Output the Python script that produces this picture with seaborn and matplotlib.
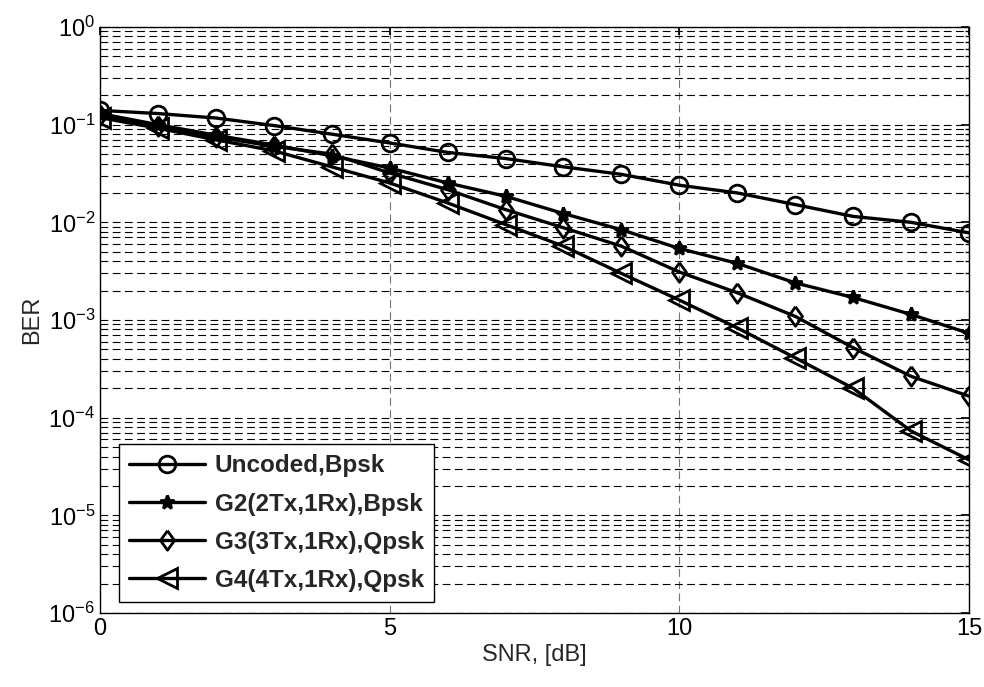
import numpy as np
import pandas as pd
import matplotlib
matplotlib.use("Agg")
import matplotlib.pyplot as plt
import seaborn as sns
from matplotlib.ticker import FixedLocator, NullFormatter, LogFormatterSciNotation

snr = [0, 1, 2, 3, 4, 5, 6, 7, 8, 9, 10, 11, 12, 13, 14, 15]
uncoded = [0.14, 0.13, 0.117, 0.098, 0.080, 0.065, 0.052, 0.045, 0.037, 0.031,
           0.024, 0.020, 0.0152, 0.0115, 0.0100, 0.0078]
g2 = [0.13, 0.100, 0.078, 0.062, 0.048, 0.036, 0.0253, 0.0185, 0.0123, 0.0084,
      0.0054, 0.0038, 0.0024, 0.0017, 0.00114, 0.00073]
g3 = [0.125, 0.097, 0.075, 0.060, 0.050, 0.032, 0.0216, 0.0135, 0.0088, 0.0057,
      0.0031, 0.0019, 0.00109, 0.00052, 0.000265, 0.000166]
g4 = [0.118, 0.092, 0.070, 0.054, 0.037, 0.0253, 0.0158, 0.0095, 0.0057, 0.0030,
      0.0016, 0.00083, 0.00041, 0.00020, 0.000073, 0.000037]
labels = ["Uncoded,Bpsk", "G2(2Tx,1Rx),Bpsk", "G3(3Tx,1Rx),Qpsk", "G4(4Tx,1Rx),Qpsk"]
xticks = [0, 5, 10, 15]
ydecades = [-6, -5, -4, -3, -2, -1, 0]

sns.set_theme(style="white")
plt.rcParams["font.family"] = ["Liberation Sans", "DejaVu Sans"]

fig = plt.figure(figsize=(9.84, 6.87), dpi=100)
ax = fig.add_axes([100/984, 74/687, 869/984, 586/687])

diamond = [(0, 1), (0.72, 0), (0, -1), (-0.72, 0), (0, 1)]
series = [uncoded, g2, g3, g4]
styles = [
    dict(marker="o", markersize=12, markerfacecolor="none"),
    dict(marker="*", markersize=10, markerfacecolor="black"),
    dict(marker=diamond, markersize=14, markerfacecolor="none"),
    dict(marker="<", markersize=14, markerfacecolor="none"),
]
for vals, lab, st in zip(series, labels, styles):
    df = pd.DataFrame({"snr": snr, "ber": vals})
    sns.lineplot(data=df, x="snr", y="ber", ax=ax, color="black", linewidth=2.4,
                 markeredgecolor="black", markeredgewidth=2.0, label=lab, **st)

ax.set_yscale("log")
ax.set_xlim(0, 15)
ax.set_ylim(1e-6, 1)
ax.xaxis.set_major_locator(FixedLocator(xticks))
ax.yaxis.set_major_locator(FixedLocator([10.0 ** k for k in ydecades]))
ax.yaxis.set_major_formatter(LogFormatterSciNotation())
minor = [m * 10.0 ** k for k in ydecades[:-1] for m in range(2, 10)]
ax.yaxis.set_minor_locator(FixedLocator(minor))
ax.yaxis.set_minor_formatter(NullFormatter())

ax.grid(False)
ax.yaxis.grid(True, which="both", color="black", linestyle=(0, (7, 4)), linewidth=0.8)
ax.xaxis.grid(True, which="major", color="0.45", linestyle=(0, (7, 4)), linewidth=0.8)

ax.tick_params(axis="both", which="both", direction="in", top=True, right=True,
               labelsize=17, colors="black")
ax.tick_params(which="major", length=6)
ax.tick_params(which="minor", length=3)
for s in ax.spines.values():
    s.set_color("black")
    s.set_linewidth(1.0)

ax.set_xlabel("SNR, [dB]", fontsize=17, labelpad=3)
ax.set_ylabel("BER", fontsize=17, labelpad=4)

leg = ax.legend(loc="lower left", bbox_to_anchor=(0.022, 0.019), borderaxespad=0,
                prop={"weight": "bold", "size": 17.5}, handlelength=3.1,
                labelspacing=0.62, fancybox=False, framealpha=1, edgecolor="black",
                borderpad=0.42, handletextpad=0.42)
leg.get_frame().set_linewidth(1.0)

fig.savefig("out.png", dpi=100)
